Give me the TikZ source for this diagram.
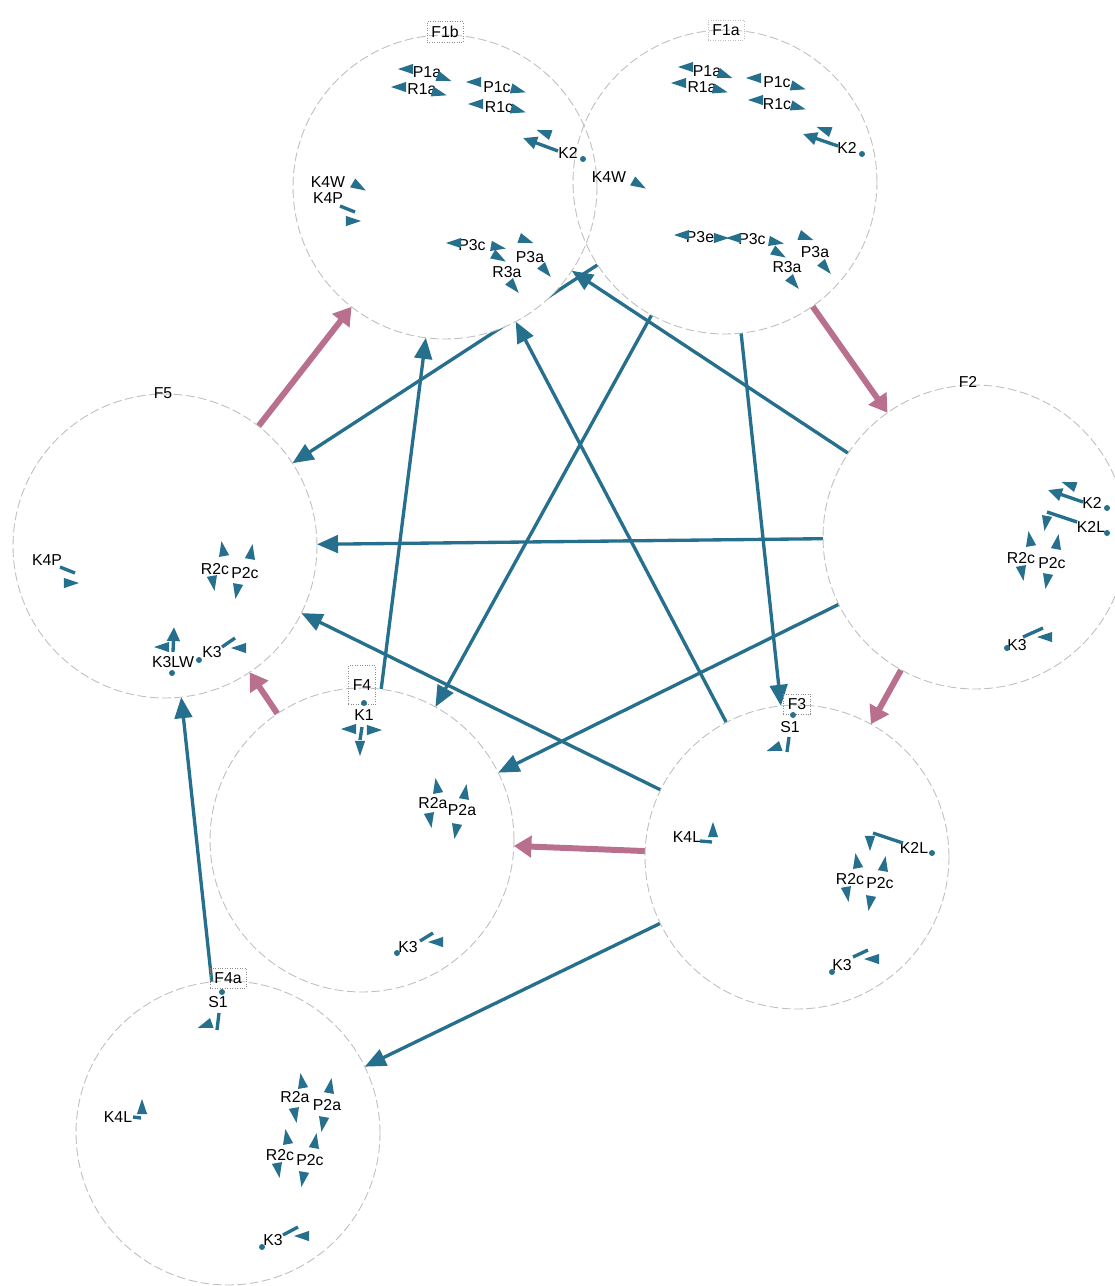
\documentclass[tikz,border=0pt]{standalone}
\usepackage{fontspec}
\setmainfont{Liberation Sans}
\usetikzlibrary{arrows.meta}
\definecolor{tealc}{RGB}{38,112,142}
\definecolor{pinkc}{RGB}{184,112,142}
\pgfdeclarelayer{edges}
\pgfdeclarelayer{disks}
\pgfsetlayers{edges,disks,main}
\tikzstyle{fset} = [circle, minimum size=6.08cm, inner sep=0pt, outer sep=0pt, draw=black!25, line width=0.5pt, dash pattern=on 5pt off 2pt]
\tikzstyle{fname} = [draw=black!45, densely dotted, inner sep=2.5pt, font=\fontsize{9}{10}\selectfont]
\tikzstyle{fbare} = [inner sep=2.5pt, font=\fontsize{9}{10}\selectfont]
\tikzstyle{lbl} = [inner sep=0pt, font=\fontsize{9}{10}\selectfont]
\tikzstyle{stub} = [tealc, line width=1.9pt]
\tikzstyle{stubtip} = [tealc, line width=1.9pt, -{Triangle[length=8pt,width=7pt]}]
\tikzstyle{link} = [tealc, line width=1.9pt, -{Triangle[length=12pt,width=10pt]}]
\tikzstyle{flow} = [pinkc, line width=3.4pt, -{Triangle[length=10pt,width=12pt]}]
\newcommand{\tri}[3]{\fill[tealc,shift={(#1,#2)}] (#3:9) -- (#3+140:8) -- (#3-140:8) -- cycle;}
\newcommand{\knob}[2]{\fill[tealc] (#1,#2) circle[radius=1.7pt];}

\begin{document}
\begin{tikzpicture}[x=0.02cm, y=-0.02cm]
        \useasboundingbox (0,0) rectangle (1115,1286);

        % sets
        \node (F1a) [fset] at (725,182) {};
        \node (F1b) [fset] at (445,187) {};
        \node (F2) [fset] at (975,537) {};
        \node (F5) [fset] at (165,546) {};
        \node (F4) [fset] at (362,840) {};
        \node (F3) [fset] at (797,857) {};
        \node (F4a) [fset] at (228,1133) {};

        \begin{pgfonlayer}{disks}
        \foreach \n in {F1a,F1b,F2,F5,F4,F3,F4a}
            \fill[white] (\n.center) circle[radius=3.04cm];
        \end{pgfonlayer}

        \node (F1b-name) [fname] at (445,32) {F1b};
        \node (F1a-name) [fname, draw=black!25] at (726,30) {F1a};
        \node (F2-name) [fbare] at (968,382) {F2};
        \node (F5-name) [fbare] at (163,393) {F5};
        \node (F4-name) [fname, minimum height=22pt] at (362,685) {F4};
        \node (F3-name) [fname] at (797,704) {F3};
        \node (F4a-name) [fname] at (228,978) {F4a};

        % F1b
        \node (b-P1a) [lbl] at (427,72) {P1a}; \tri{407}{69}{180} \tri{443}{78}{20}
        \node (b-R1a) [lbl] at (422,89) {R1a}; \tri{400}{87}{180} \tri{438}{93}{15}
        \node (b-P1c) [lbl] at (497,87) {P1c}; \tri{475}{82}{180} \tri{517}{90}{15}
        \node (b-R1c) [lbl] at (499,107) {R1c}; \tri{477}{104}{180} \tri{517}{110}{15}
        \node (b-K2) [lbl] at (568,153) {K2}; \draw[stubtip] (558,151) -- (523,138); \tri{545}{133}{200} \knob{583}{159}
        \node (b-K4W) [lbl] at (328,182) {K4W}; \tri{358}{186}{30}
        \node (b-K4P) [lbl] at (328,198) {K4P}; \draw[stub] (340,206) -- (355,212); \tri{352}{221}{0}
        \node (b-P3c) [lbl] at (472,245) {P3c}; \tri{455}{243}{180} \tri{497}{247}{10} \tri{498}{257}{30}
        \node (b-P3a) [lbl] at (530,257) {P3a}; \tri{525}{240}{20} \tri{545}{270}{50}
        \node (b-R3a) [lbl] at (507,272) {R3a}; \tri{513}{286}{50}

        % F1a
        \node (a-P1a) [lbl] at (707,71) {P1a}; \tri{687}{67}{180} \tri{724}{75}{20}
        \node (a-R1a) [lbl] at (702,87) {R1a}; \tri{680}{83}{180} \tri{719}{90}{15}
        \node (a-P1c) [lbl] at (777,82) {P1c}; \tri{755}{78}{180} \tri{797}{87}{15}
        \node (a-R1c) [lbl] at (777,104) {R1c}; \tri{757}{100}{180} \tri{797}{107}{15}
        \node (a-K2) [lbl] at (847,148) {K2}; \draw[stubtip] (838,146) -- (803,134); \tri{825}{130}{200} \knob{862}{154}
        \node (a-K4W) [lbl] at (609,177) {K4W}; \tri{638}{184}{30}
        \node (a-P3e) [lbl] at (700,237) {P3e}; \tri{683}{235}{180} \tri{720}{238}{0}
        \node (a-P3c) [lbl] at (752,239) {P3c}; \tri{735}{238}{180} \tri{775}{242}{10} \tri{778}{253}{30}
        \node (a-P3a) [lbl] at (815,252) {P3a}; \tri{805}{237}{20} \tri{825}{267}{50}
        \node (a-R3a) [lbl] at (787,267) {R3a}; \tri{793}{282}{50}

        % F2
        \node (c-K2) [lbl] at (1092,503) {K2}; \draw[stubtip] (1083,502) -- (1048,490); \tri{1070}{485}{200} \knob{1107}{508}
        \node (c-K2L) [lbl] at (1091,527) {K2L}; \draw[stub] (1047,512) -- (1077,522); \tri{1046}{522}{100} \knob{1107}{533}
        \node (c-R2c) [lbl] at (1021,558) {R2c}; \tri{1030}{540}{260} \tri{1022}{572}{80}
        \node (c-P2c) [lbl] at (1052,563) {P2c}; \tri{1057}{543}{280} \tri{1047}{580}{100}
        \node (c-K3) [lbl] at (1017,645) {K3}; \knob{1007}{648} \draw[stub] (1023,637) -- (1043,628); \tri{1046}{637}{180}

        % F5
        \node (e-K4P) [lbl] at (47,560) {K4P}; \draw[stub] (60,567) -- (75,573); \tri{70}{583}{0}
        \node (e-R2c) [lbl] at (215,569) {R2c}; \tri{223}{550}{260} \tri{213}{582}{80}
        \node (e-P2c) [lbl] at (245,573) {P2c}; \tri{251}{553}{280} \tri{237}{590}{100}
        \node (e-K3LW) [lbl] at (173,662) {K3LW}; \draw[stubtip] (173,652) -- (174,627); \tri{163}{647}{180} \knob{172}{673}
        \node (e-K3) [lbl] at (212,652) {K3}; \knob{199}{660} \draw[stub] (222,647) -- (235,638); \tri{240}{648}{180}

        % F4
        \node (d-K1) [lbl] at (364,715) {K1}; \knob{364}{703} \draw[stub] (362,727) -- (360,740);
        \tri{350}{729}{180} \tri{373}{730}{0} \tri{360}{747}{90}
        \node (d-R2a) [lbl] at (433,803) {R2a}; \tri{437}{787}{260} \tri{430}{819}{80}
        \node (d-P2a) [lbl] at (462,810) {P2a}; \tri{465}{793}{280} \tri{456}{830}{100}
        \node (d-K3) [lbl] at (408,947) {K3}; \knob{397}{953} \draw[stub] (420,941) -- (433,933); \tri{437}{942}{180}

        % F3
        \node (g-S1) [lbl] at (790,727) {S1}; \knob{793}{715} \draw[stub] (789,737) -- (787,752); \tri{775}{748}{160}
        \node (g-K4L) [lbl] at (687,837) {K4L}; \draw[stub] (700,841) -- (712,842); \tri{713}{831}{270}
        \node (g-K2L) [lbl] at (914,848) {K2L}; \draw[stub] (873,833) -- (903,843); \tri{870}{842}{90} \knob{932}{853}
        \node (g-R2c) [lbl] at (850,879) {R2c}; \tri{857}{862}{260} \tri{847}{893}{80}
        \node (g-P2c) [lbl] at (880,883) {P2c}; \tri{884}{865}{280} \tri{870}{902}{100}
        \node (g-K3) [lbl] at (842,965) {K3}; \knob{832}{972} \draw[stub] (853,957) -- (868,950); \tri{873}{959}{180}

        % F4a
        \node (h-S1) [lbl] at (218,1002) {S1}; \knob{222}{992} \draw[stub] (219,1013) -- (217,1030); \tri{206}{1025}{160}
        \node (h-K4L) [lbl] at (118,1117) {K4L}; \draw[stub] (133,1117) -- (141,1118); \tri{142}{1108}{270}
        \node (h-R2a) [lbl] at (295,1097) {R2a}; \tri{302}{1082}{260} \tri{295}{1114}{80}
        \node (h-P2a) [lbl] at (327,1105) {P2a}; \tri{330}{1087}{280} \tri{323}{1123}{100}
        \node (h-R2c) [lbl] at (280,1155) {R2c}; \tri{287}{1138}{260} \tri{278}{1169}{80}
        \node (h-P2c) [lbl] at (310,1160) {P2c}; \tri{315}{1142}{280} \tri{303}{1178}{100}
        \node (h-K3) [lbl] at (273,1240) {K3}; \knob{262}{1247} \draw[stub] (283,1235) -- (298,1227); \tri{303}{1236}{180}

        % Arrows
        \begin{pgfonlayer}{edges}
        \draw [link] (F1a) -- (F5);
        \draw [link] (F2) -- (F1b);
        \draw [link] (F2) -- (F5);
        \draw [link] (F2) -- (F4);
        \draw [link] (F1a) -- (F4);
        \draw [link] (F1a) -- (F3);
        \draw [link] (F3) -- (F1b);
        \draw [link] (F3) -- (F5);
        \draw [link] (F4) -- (F1b);
        \draw [link] (F3) -- (F4a);
        \draw [link] (F4a) -- (F5);
        \draw [flow] (F5) -- (F1b);
        \draw [flow] (F1a) -- (F2);
        \draw [flow] (F2) -- (F3);
        \draw [flow] (F3) -- (F4);
        \draw [flow] (F4) -- (F5);
        \end{pgfonlayer}

\end{tikzpicture}
\end{document}
